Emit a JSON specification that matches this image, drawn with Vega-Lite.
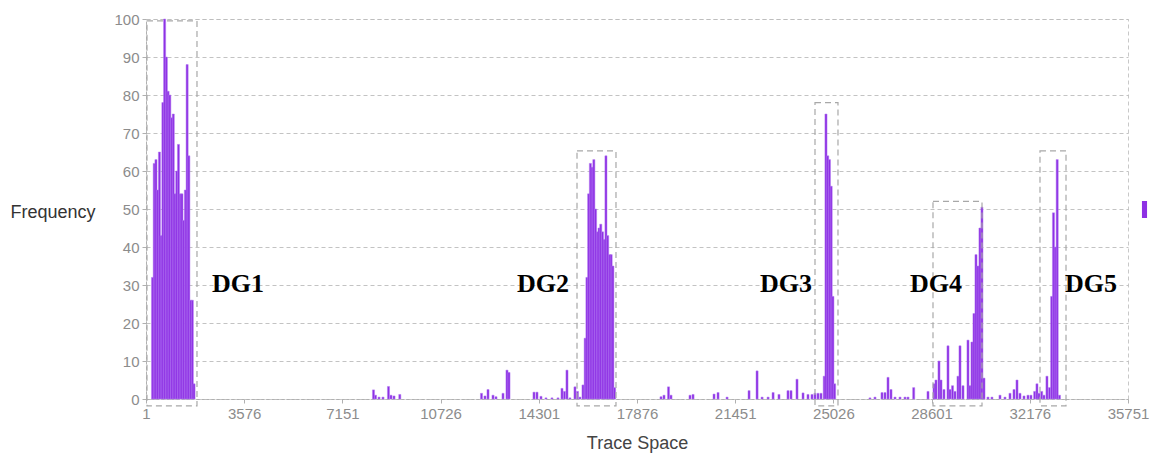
{
  "$schema": "https://vega.github.io/schema/vega-lite/v6.json",
  "width": 982,
  "height": 380,
  "autosize": {"type": "none"},
  "padding": {"left": 146, "top": 19, "right": 26, "bottom": 57},
  "background": "#ffffff",
  "config": {
    "view": {"stroke": "#c8c8c8", "strokeDash": [4, 3]},
    "font": "Liberation Sans",
    "axis": {"zindex": 1},
    "scale": {"continuousPadding": 0}
  },
  "datasets": {
    "bars": [
      {"x": 238, "f": 32}, {"x": 301, "f": 62}, {"x": 364, "f": 63}, {"x": 427, "f": 55}, {"x": 490, "f": 65},
      {"x": 553, "f": 43}, {"x": 616, "f": 78}, {"x": 679, "f": 100}, {"x": 742, "f": 90}, {"x": 805, "f": 81},
      {"x": 868, "f": 80}, {"x": 931, "f": 74}, {"x": 994, "f": 75}, {"x": 1057, "f": 54}, {"x": 1120, "f": 60},
      {"x": 1183, "f": 67}, {"x": 1246, "f": 54}, {"x": 1309, "f": 54}, {"x": 1372, "f": 47}, {"x": 1435, "f": 55},
      {"x": 1498, "f": 88}, {"x": 1561, "f": 64}, {"x": 1624, "f": 26}, {"x": 1687, "f": 26}, {"x": 1750, "f": 4},
      {"x": 8283, "f": 2.4}, {"x": 8356, "f": 1}, {"x": 8484, "f": 0.5}, {"x": 8629, "f": 0.5}, {"x": 8829, "f": 3.3},
      {"x": 8920, "f": 1}, {"x": 9030, "f": 0.8}, {"x": 9241, "f": 1.2},
      {"x": 12215, "f": 1.5}, {"x": 12342, "f": 0.8}, {"x": 12452, "f": 2.5}, {"x": 12634, "f": 1}, {"x": 12743, "f": 0.6},
      {"x": 12998, "f": 1.5}, {"x": 13143, "f": 7.6}, {"x": 13216, "f": 7},
      {"x": 14126, "f": 1.8}, {"x": 14235, "f": 1.8}, {"x": 14381, "f": 0.7}, {"x": 14563, "f": 0.3}, {"x": 14781, "f": 0.3},
      {"x": 15000, "f": 0.3}, {"x": 15145, "f": 2.8}, {"x": 15236, "f": 2}, {"x": 15327, "f": 7.6}, {"x": 15436, "f": 0.3},
      {"x": 15618, "f": 3.2}, {"x": 15709, "f": 2}, {"x": 15800, "f": 0.5}, {"x": 15910, "f": 3.7},
      {"x": 15990, "f": 16}, {"x": 16053, "f": 32}, {"x": 16116, "f": 54}, {"x": 16179, "f": 62}, {"x": 16242, "f": 61},
      {"x": 16305, "f": 63}, {"x": 16368, "f": 50}, {"x": 16431, "f": 44}, {"x": 16494, "f": 45}, {"x": 16557, "f": 46},
      {"x": 16620, "f": 44}, {"x": 16683, "f": 42}, {"x": 16746, "f": 64}, {"x": 16809, "f": 43}, {"x": 16872, "f": 38},
      {"x": 16935, "f": 38}, {"x": 16998, "f": 35}, {"x": 17061, "f": 3},
      {"x": 18750, "f": 0.6}, {"x": 18859, "f": 1}, {"x": 19023, "f": 3.2}, {"x": 19114, "f": 1}, {"x": 19806, "f": 1},
      {"x": 19916, "f": 1.2}, {"x": 20680, "f": 1.3}, {"x": 20826, "f": 1.7}, {"x": 21154, "f": 0.5}, {"x": 21955, "f": 2.2},
      {"x": 22247, "f": 7.4}, {"x": 22429, "f": 0.5}, {"x": 22648, "f": 0.5}, {"x": 22830, "f": 1.7}, {"x": 23045, "f": 1.2},
      {"x": 23373, "f": 2.2}, {"x": 23483, "f": 2.2}, {"x": 23701, "f": 5.2}, {"x": 23920, "f": 1.6}, {"x": 24101, "f": 1.2},
      {"x": 24247, "f": 1.2}, {"x": 24356, "f": 1.5}, {"x": 24466, "f": 1.5}, {"x": 24575, "f": 1.5},
      {"x": 24693, "f": 6}, {"x": 24756, "f": 75}, {"x": 24819, "f": 64}, {"x": 24882, "f": 63}, {"x": 24945, "f": 56},
      {"x": 25008, "f": 27}, {"x": 25071, "f": 4},
      {"x": 26358, "f": 0.3}, {"x": 26540, "f": 0.5}, {"x": 26795, "f": 1.7}, {"x": 26904, "f": 1.7}, {"x": 27014, "f": 5.7},
      {"x": 27123, "f": 2.5}, {"x": 27269, "f": 0.5}, {"x": 27451, "f": 0.5}, {"x": 27633, "f": 0.5}, {"x": 27742, "f": 0.5},
      {"x": 27949, "f": 3}, {"x": 28470, "f": 2}, {"x": 28689, "f": 4}, {"x": 28761, "f": 5}, {"x": 28870, "f": 10},
      {"x": 28943, "f": 5}, {"x": 29052, "f": 2.5}, {"x": 29198, "f": 14}, {"x": 29270, "f": 2.5}, {"x": 29362, "f": 3.5},
      {"x": 29453, "f": 2}, {"x": 29562, "f": 6}, {"x": 29635, "f": 14}, {"x": 29744, "f": 3.5}, {"x": 29926, "f": 15.5},
      {"x": 29998, "f": 3.5}, {"x": 30071, "f": 15}, {"x": 30144, "f": 22.5}, {"x": 30217, "f": 38}, {"x": 30290, "f": 35},
      {"x": 30362, "f": 45}, {"x": 30435, "f": 50.5}, {"x": 30508, "f": 5.5},
      {"x": 30654, "f": 0.5}, {"x": 30799, "f": 0.5}, {"x": 31091, "f": 1}, {"x": 31273, "f": 0.5}, {"x": 31455, "f": 1.5},
      {"x": 31601, "f": 2.5}, {"x": 31710, "f": 5}, {"x": 31819, "f": 1.5}, {"x": 31965, "f": 0.8}, {"x": 32110, "f": 1},
      {"x": 32219, "f": 1},
      {"x": 32353, "f": 2}, {"x": 32437, "f": 4}, {"x": 32510, "f": 1.5}, {"x": 32608, "f": 2}, {"x": 32692, "f": 1},
      {"x": 32801, "f": 6}, {"x": 32892, "f": 3}, {"x": 32972, "f": 27}, {"x": 33038, "f": 49}, {"x": 33100, "f": 40},
      {"x": 33173, "f": 63}, {"x": 33256, "f": 1}
    ],
    "boxes": [
      {"a": 37, "b": 1857, "lo": -1.8, "hi": 99.5},
      {"a": 15692, "b": 17111, "lo": -1.8, "hi": 65.3},
      {"a": 24356, "b": 25193, "lo": -1.8, "hi": 78},
      {"a": 28652, "b": 30436, "lo": -1.8, "hi": 52},
      {"a": 32547, "b": 33494, "lo": -1.8, "hi": 65.3}
    ],
    "labels": [
      {"x": 2404, "y": 30.3, "t": "DG1"},
      {"x": 13507, "y": 30.3, "t": "DG2"},
      {"x": 22354, "y": 30.3, "t": "DG3"},
      {"x": 27815, "y": 30.3, "t": "DG4"},
      {"x": 33458, "y": 30.3, "t": "DG5"}
    ]
  },
  "layer": [
    {
      "mark": {
        "type": "rect",
        "fill": {
          "gradient": "linear", "x1": 0, "y1": 0, "x2": 1, "y2": 0,
          "stops": [{"offset": 0, "color": "#ffffff"}, {"offset": 1, "color": "#dcdcf6"}]
        }
      },
      "encoding": {
        "x": {
          "datum": 1, "type": "quantitative",
          "scale": {"domain": [1, 35751], "nice": false, "zero": false, "padding": 0},
          "axis": {
            "values": [1, 3576, 7151, 10726, 14301, 17876, 21451, 25026, 28601, 32176, 35751],
            "format": "d", "labelOverlap": false, "labelFlush": false,
            "title": "Trace Space", "titleFontSize": 18, "titleColor": "#444444", "titleFontWeight": "normal",
            "titleY": 44, "titleBaseline": "middle",
            "labelFontSize": 15, "labelColor": "#8c8c8c", "labelPadding": 3,
            "tickSize": 4, "tickColor": "#b0b0b0",
            "domainColor": "#b0b0b0", "domainDash": [3, 2],
            "grid": false
          }
        },
        "x2": {"datum": 35751},
        "y": {
          "datum": 0, "type": "quantitative",
          "scale": {"domain": [0, 100], "nice": false, "padding": 0},
          "axis": {
            "tickCount": 10,
            "labelOverlap": false, "labelFlush": false,
            "title": "Frequency", "titleAngle": 0, "titleAlign": "left", "titleBaseline": "middle",
            "titleX": -136, "titleY": 193, "titleFontSize": 18, "titleColor": "#333333", "titleFontWeight": "normal",
            "labelFontSize": 15, "labelColor": "#8c8c8c", "labelPadding": 3,
            "tickSize": 4, "tickColor": "#b0b0b0",
            "domainColor": "#b0b0b0", "domainDash": [3, 2],
            "grid": true, "gridColor": "#bdbdbd", "gridDash": [4, 3], "gridOpacity": 0.9
          }
        },
        "y2": {"datum": 100}
      }
    },
    {
      "data": {"name": "bars"},
      "mark": {"type": "bar", "width": 2.1, "stroke": "#b37cf2", "strokeWidth": 0.5},
      "encoding": {
        "x": {"field": "x", "type": "quantitative"},
        "y": {"field": "f", "type": "quantitative"},
        "color": {
          "datum": "Frequency",
          "scale": {"range": ["#8e30e4"]},
          "legend": {
            "orient": "none", "legendX": 990, "legendY": 182,
            "title": null, "labelExpr": "''",
            "symbolType": "M-0.3,-1H0.3V1H-0.3Z", "symbolSize": 289,
            "symbolStrokeWidth": 0, "symbolOpacity": 1
          }
        }
      }
    },
    {
      "data": {"name": "boxes"},
      "mark": {"type": "rect", "fill": null, "fillOpacity": 0, "stroke": "#a8a8a8", "strokeWidth": 1.2, "strokeDash": [6, 4]},
      "encoding": {
        "x": {"field": "a", "type": "quantitative"},
        "x2": {"field": "b"},
        "y": {"field": "lo", "type": "quantitative"},
        "y2": {"field": "hi"}
      }
    },
    {
      "data": {"name": "labels"},
      "mark": {"type": "text", "font": "Liberation Serif", "fontWeight": "bold", "fontSize": 26, "align": "left", "baseline": "middle", "color": "#000000"},
      "encoding": {
        "x": {"field": "x", "type": "quantitative"},
        "y": {"field": "y", "type": "quantitative"},
        "text": {"field": "t"}
      }
    }
  ]
}
